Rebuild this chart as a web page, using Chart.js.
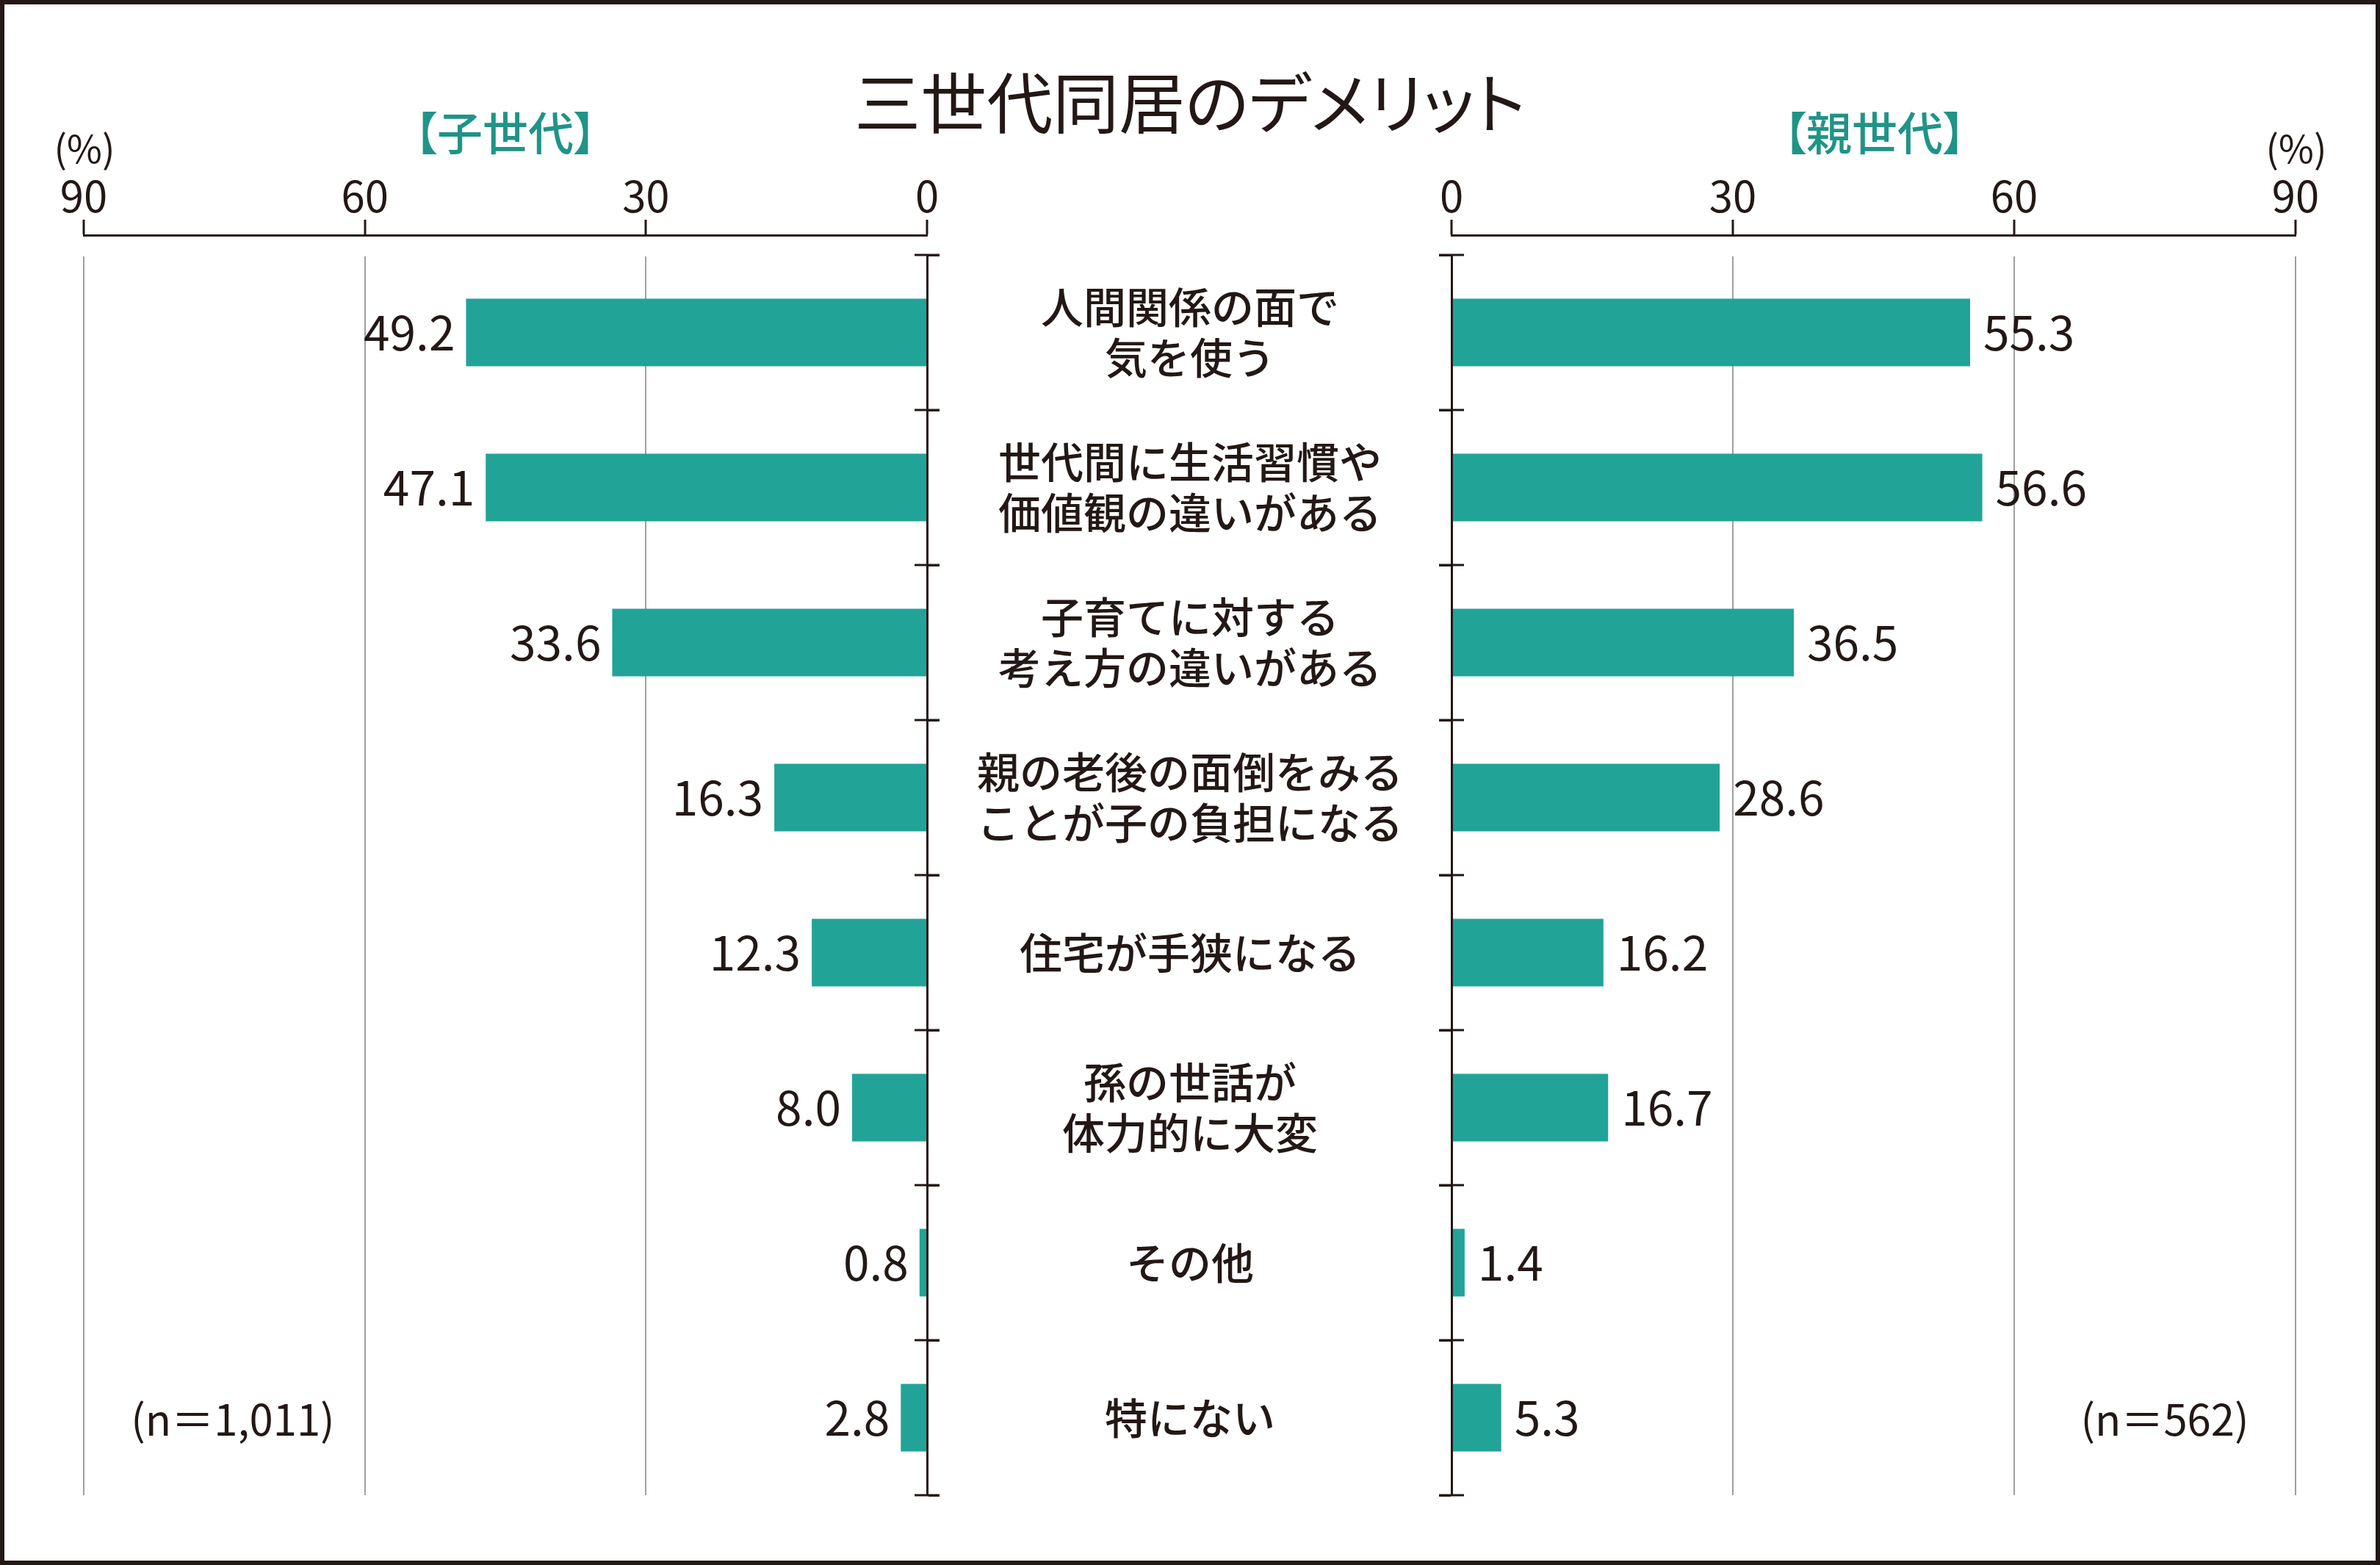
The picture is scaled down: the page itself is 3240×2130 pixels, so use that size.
<!DOCTYPE html>
<html lang="ja">
<head>
<meta charset="utf-8">
<title>三世代同居のデメリット</title>
<script src="https://cdn.jsdelivr.net/npm/chart.js@4.4.1/dist/chart.umd.min.js"></script>
<style>
  html, body { margin: 0; padding: 0; background: #fff; }
  #frame { position: relative; width: 3240px; height: 2130px; background: #fff; overflow: hidden; }
  #frame canvas { position: absolute; left: 0; top: 0; }
  #border { position: absolute; left: 0; top: 0; right: 0; bottom: 0; border: 6px solid #231815; pointer-events: none; }
  .txt { position: absolute; width: 800px; text-align: center; white-space: nowrap; line-height: 1;
         font-family: 'Noto Sans CJK JP', sans-serif; color: #231815; font-feature-settings: "palt"; }
  .teal { color: #1f9487; font-weight: 500; }
</style>
</head>
<body>
<div id="frame">
  <canvas id="childChart" width="3240" height="2130"></canvas>
  <canvas id="parentChart" width="3240" height="2130"></canvas>
  <div class="txt" style="left:920px; width:1400px; top:90px; font-size:90px; font-weight:400;">三世代同居のデメリット</div>
  <div class="txt teal" style="left:288px; top:147px; font-size:62px;">【子世代】</div>
  <div class="txt teal" style="left:2152px; top:147px; font-size:62px;">【親世代】</div>
  <div class="txt" style="left:-285px; top:174px; font-size:52px;">(%)</div>
  <div class="txt" style="left:2726px; top:174px; font-size:52px;">(%)</div>
  <div class="txt" style="left:-83px; top:1900px; font-size:58px;">(n＝1,011)</div>
  <div class="txt" style="left:2547px; top:1900px; font-size:58px;">(n＝562)</div>
  <div id="border"></div>
</div>
<script>
// 三世代同居のデメリット（子世代 / 親世代）
const categories = [
  ['人間関係の面で', '気を使う'],
  ['世代間に生活習慣や', '価値観の違いがある'],
  ['子育てに対する', '考え方の違いがある'],
  ['親の老後の面倒をみる', 'ことが子の負担になる'],
  '住宅が手狭になる',
  ['孫の世話が', '体力的に大変'],
  'その他',
  '特にない'
];
const childValues = [49.2, 47.1, 33.6, 16.3, 12.3, 8.0, 0.8, 2.8];
const parentValues = [55.3, 56.6, 36.5, 28.6, 16.2, 16.7, 1.4, 5.3];
const xTicks = [0, 30, 60, 90];

const ink = '#231815';
const barColor = '#22a398';
const fontFamily = "'Noto Sans CJK JP', sans-serif";

// fix the plot area: a small gap under the top value axis, same bottom on both sides
const plotArea = {
  id: 'plotArea',
  afterLayout(chart) {
    const top = 347, bottom = 2035;
    const ca = chart.chartArea;
    const y = chart.scales.y;
    ca.top = top;
    ca.bottom = bottom;
    ca.height = bottom - top;
    y.top = top;
    y.bottom = bottom;
    y.height = bottom - top;
    y.configure();
  }
};

// category ticks cross the axis line on both sides
const crossTicks = {
  id: 'crossTicks',
  afterDatasetsDraw(chart) {
    const y = chart.scales.y;
    const ctx = chart.ctx;
    const bx = y.position === 'right' ? y.left : y.right;
    ctx.save();
    ctx.strokeStyle = ink;
    ctx.lineWidth = 3;
    for (let i = 0; i <= categories.length; i++) {
      const py = Math.round(y.getPixelForValue(i - 0.5));
      ctx.beginPath();
      ctx.moveTo(bx - 17, py);
      ctx.lineTo(bx + 17, py);
      ctx.stroke();
    }
    ctx.restore();
  }
};

const valueLabels = {
  id: 'valueLabels',
  afterDatasetsDraw(chart, args, opts) {
    const ctx = chart.ctx;
    const meta = chart.getDatasetMeta(0);
    const values = chart.data.datasets[0].data;
    ctx.save();
    ctx.font = '400 64px ' + fontFamily;
    ctx.fillStyle = ink;
    ctx.textBaseline = 'middle';
    ctx.textAlign = opts.align;
    meta.data.forEach((bar, i) => {
      ctx.fillText(values[i].toFixed(1), bar.x + opts.offset, bar.y);
    });
    ctx.restore();
  }
};

function xScale(reverse) {
  return {
    position: 'top',
    reverse: reverse,
    min: xTicks[0],
    max: xTicks[xTicks.length - 1],
    ticks: {
      stepSize: xTicks[1] - xTicks[0],
      padding: 0,
      color: ink,
      font: { family: fontFamily, size: 58, lineHeight: 1.1 }
    },
    grid: {
      color: '#a0a0a0',
      lineWidth: 2,
      tickColor: ink,
      tickWidth: 3,
      tickLength: 21
    },
    border: { color: ink, width: 3 },
    afterFit(scale) { scale.height = 120; }
  };
}

function yScale(position, showLabels, width) {
  return {
    position: position,
    ticks: {
      display: showLabels,
      crossAlign: 'center',
      padding: 49,
      color: ink,
      font: { family: fontFamily, size: 58, weight: 500, lineHeight: 1.2 }
    },
    grid: {
      drawOnChartArea: false,
      tickColor: ink,
      tickWidth: 3,
      tickLength: 17
    },
    border: { color: ink, width: 3, z: 1 },
    afterFit(scale) { scale.width = width; }
  };
}

Chart.defaults.animation = false;

new Chart(document.getElementById('childChart'), {
  type: 'bar',
  data: {
    labels: categories,
    datasets: [{
      label: '子世代',
      data: childValues,
      backgroundColor: barColor,
      barPercentage: 0.436,
      categoryPercentage: 1
    }]
  },
  options: {
    indexAxis: 'y',
    responsive: false,
    devicePixelRatio: 1,
    layout: { padding: { left: 114, right: 3240 - 1262 - 20, top: 200, bottom: 95 } },
    scales: { x: xScale(true), y: yScale('right', false, 20) },
    plugins: {
      legend: { display: false },
      tooltip: { enabled: false },
      valueLabels: { align: 'right', offset: -15 }
    }
  },
  plugins: [plotArea, crossTicks, valueLabels]
});

new Chart(document.getElementById('parentChart'), {
  type: 'bar',
  data: {
    labels: categories,
    datasets: [{
      label: '親世代',
      data: parentValues,
      backgroundColor: barColor,
      barPercentage: 0.436,
      categoryPercentage: 1
    }]
  },
  options: {
    indexAxis: 'y',
    responsive: false,
    devicePixelRatio: 1,
    layout: { padding: { left: 1262, right: 3240 - 3125, top: 200, bottom: 95 } },
    scales: { x: xScale(false), y: yScale('left', true, 1976 - 1262) },
    plugins: {
      legend: { display: false },
      tooltip: { enabled: false },
      valueLabels: { align: 'left', offset: 18 }
    }
  },
  plugins: [plotArea, crossTicks, valueLabels]
});
</script>
</body>
</html>
